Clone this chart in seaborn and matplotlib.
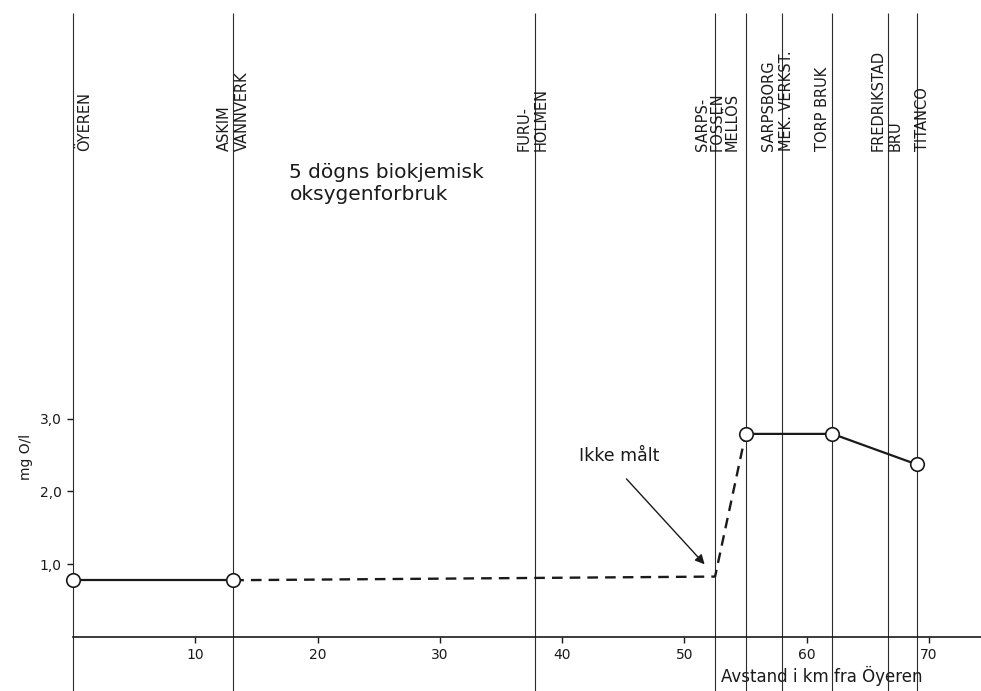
"""
5 dogns biokjemisk oksygenforbruk langs Glomma (Öyeren - Titanco)
"""

import matplotlib
matplotlib.use('Agg')
import matplotlib.pyplot as plt
import pandas as pd
import seaborn as sns

# Stations along the river (km from Öyeren)
STATIONS = ['Öyeren', 'Askim vannverk', 'Furuholmen', 'Sarpsfossen', 'Mellös',
            'Sarpsborg mek. verkst.', 'Torp bruk', 'Fredrikstad bru', 'Titanco']
STATION_KM = [0.0, 13.1, 37.8, 52.5, 55.0, 58.0, 62.1, 66.6, 69.0]

# the printed labels (Sarpsfossen and Mellös share one block)
LABELS = ['ÖYEREN', 'ASKIM\nVANNVERK', 'FURU-\nHOLMEN', 'SARPS-\nFOSSEN\nMELLÖS', '',
          'SARPSBORG\nMEK. VERKST.', 'TORP BRUK', 'FREDRIKSTAD\nBRU', 'TITANCO']
# small shift of each label relative to its line (km) and spacing of its rows
LABEL_SHIFT = [0.98, 0.0, -0.2, 0.2, 0.0, -0.4, -0.8, -0.07, 0.5]
LABEL_SPACING = [1.2, 1.25, 1.2, 0.97, 1.2, 1.3, 1.2, 1.2, 1.2]

# measured BOD5 (mg O/l)
MEASURED_KM = [0.0, 13.1, 55.0, 62.1, 69.0]
MEASURED_BOD = [0.78, 0.78, 2.79, 2.79, 2.37]

# line pieces: solid = measured, dashed = not measured
SOLID_A_KM = [0.0, 13.1]
SOLID_A_BOD = [0.78, 0.78]
DASHED_KM = [13.1, 52.5, 55.0]
DASHED_BOD = [0.78, 0.83, 2.79]
SOLID_B_KM = [55.0, 62.1, 69.0]
SOLID_B_BOD = [2.79, 2.79, 2.37]

Y_TICKS = [1, 2, 3]
Y_TICKLABELS = ['1,0', '2,0', '3,0']
X_TICKS = [10, 20, 30, 40, 50, 60, 70]

INK = '#1a1a1a'
PX_X = 12.23   # pixels per km
PX_Y = 72.8    # pixels per mg/l


def main():
    sns.set_style('white')
    plt.rcParams['font.family'] = ['DejaVu Sans']

    fig = plt.figure(figsize=(9.81, 6.91), dpi=100)
    ax = fig.add_axes([73 / 981, 54 / 691, 908 / 981, 637 / 691])
    ax.set_xlim(0, 908 / PX_X)
    ax.set_ylim(0, 637 / PX_Y)

    # station lines, running past the axes at top and bottom
    ax.vlines(STATION_KM, -54 / PX_Y, 624 / PX_Y, color='#2b2b2b', lw=0.8, clip_on=False)

    for name, km, shift, sp in zip(LABELS, STATION_KM, LABEL_SHIFT, LABEL_SPACING):
        if not name:
            continue
        ax.text(km + shift, (637 - 151) / PX_Y, name, rotation=90, ha='center', va='bottom',
                multialignment='left', fontsize=10.5, color=INK, linespacing=sp)

    # curve
    solid_a = pd.DataFrame({'km': SOLID_A_KM, 'bod': SOLID_A_BOD})
    dashed = pd.DataFrame({'km': DASHED_KM, 'bod': DASHED_BOD})
    solid_b = pd.DataFrame({'km': SOLID_B_KM, 'bod': SOLID_B_BOD})
    sns.lineplot(data=solid_a, x='km', y='bod', ax=ax, color=INK, lw=1.6, sort=False)
    sns.lineplot(data=dashed, x='km', y='bod', ax=ax, color=INK, lw=1.7, sort=False,
                 linestyle=(0, (4.5, 3)))
    sns.lineplot(data=solid_b, x='km', y='bod', ax=ax, color=INK, lw=1.6, sort=False)

    pts = pd.DataFrame({'km': MEASURED_KM, 'bod': MEASURED_BOD})
    sns.scatterplot(data=pts, x='km', y='bod', ax=ax, s=95, color='white',
                    edgecolor=INK, linewidth=1.2, zorder=5, clip_on=False)

    # title and note
    ax.text(17.7, (637 - 163) / PX_Y, '5 dögns biokjemisk\noksygenforbruk', ha='left', va='top',
            fontsize=14.5, color=INK, linespacing=1.2)
    ax.text(44.7, 2.49, 'Ikke målt', ha='center', va='center', fontsize=12.5, color=INK)
    ax.annotate('', xy=(51.8, 0.97), xytext=(45.1, 2.20),
                arrowprops=dict(arrowstyle='-|>', color=INK, lw=1.0, mutation_scale=14))

    # axes
    sns.despine(ax=ax, left=True)
    ax.spines['bottom'].set_color(INK)
    ax.spines['bottom'].set_linewidth(1.2)
    ax.set_xticks(X_TICKS)
    ax.set_xticklabels([str(t) for t in X_TICKS])
    ax.set_yticks(Y_TICKS)
    ax.set_yticklabels(Y_TICKLABELS)
    ax.tick_params(axis='both', direction='out', length=4, width=1.0, color=INK,
                   labelsize=10, labelcolor=INK, pad=4)
    ax.tick_params(axis='x', bottom=True)
    ax.tick_params(axis='y', left=True)

    ax.set_xlabel('Avstand i km fra Öyeren', fontsize=12, color=INK)
    ax.xaxis.set_label_coords((822 - 73) / 908, (637 - 666) / 637)
    ax.set_ylabel('mg O/l', fontsize=10, color=INK)
    ax.yaxis.set_label_coords((33 - 73) / 908, (637 - 457) / 637)

    fig.savefig('out.png', dpi=100)


if __name__ == '__main__':
    main()
